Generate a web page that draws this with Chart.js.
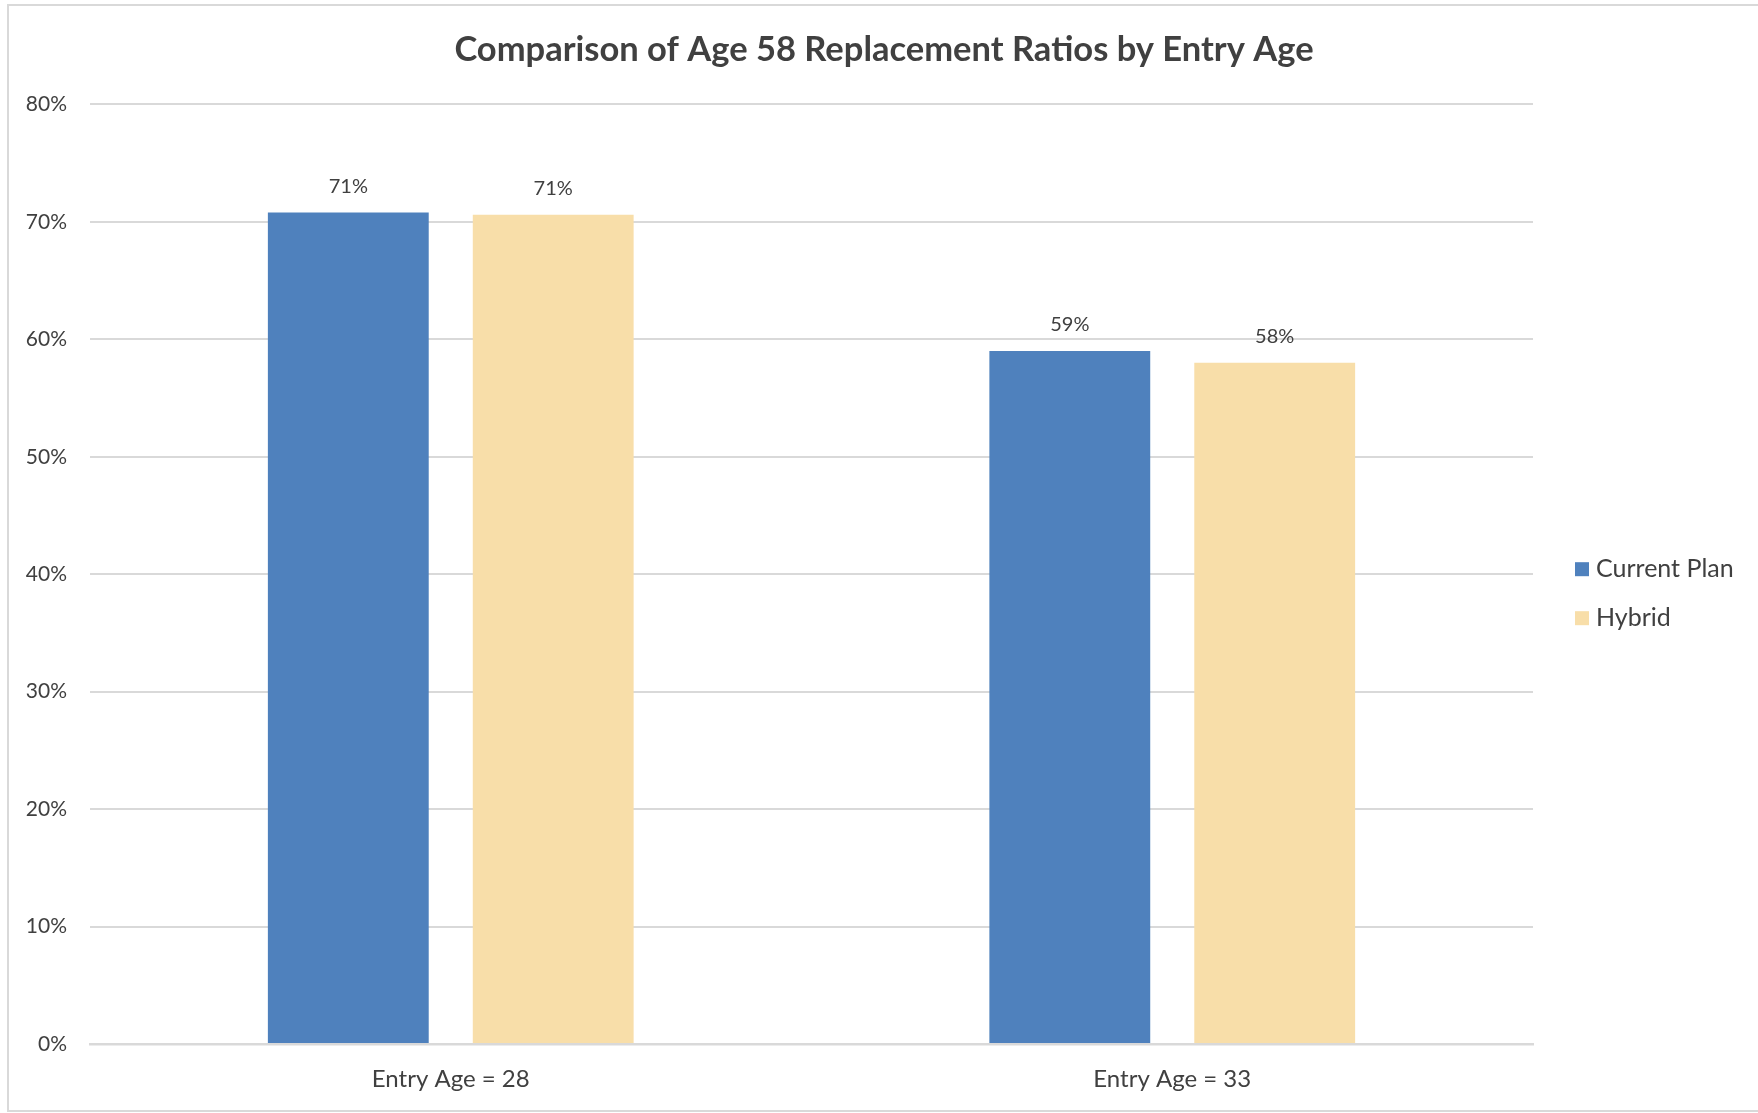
<!DOCTYPE html>
<html>
<head>
<meta charset="utf-8">
<title>Replacement Ratios by Entry Age</title>
<script src="https://cdn.jsdelivr.net/npm/chart.js@4.4.1/dist/chart.umd.min.js"></script>
<style>
  html, body { margin: 0; padding: 0; background: #fff; }
  #wrap { width: 1758px; height: 1113px; position: relative; }
</style>
</head>
<body>
<div id="wrap"><canvas id="ratioChart"></canvas></div>
<script>
// replacement ratios at age 58, per entry age
const entryAges   = ['Entry Age = 28', 'Entry Age = 33'];
const currentPlan = [0.708, 0.59];
const hybrid      = [0.706, 0.58];
const yTicks      = [0, 0.1, 0.2, 0.3, 0.4, 0.5, 0.6, 0.7, 0.8];

const TEXT = '#404040', HAIR = '#d9d9d9', FONT = 'Lato, sans-serif';

// thin frame round the whole chart
const frame = {
  id: 'frame',
  beforeDraw(chart) {
    const c = chart.ctx;
    c.save();
    c.strokeStyle = HAIR; c.lineWidth = 2;
    c.strokeRect(8, 5, chart.width + 10, chart.height - 7);
    c.restore();
  }
};

// percentage above each bar
const barLabels = {
  id: 'barLabels',
  afterDatasetsDraw(chart) {
    const c = chart.ctx;
    c.save();
    c.font = '20px ' + FONT; c.fillStyle = TEXT;
    c.textAlign = 'center'; c.textBaseline = 'middle';
    chart.data.datasets.forEach((ds, i) => {
      chart.getDatasetMeta(i).data.forEach((bar, j) => {
        c.fillText(Math.round(ds.data[j] * 100) + '%', bar.x, bar.y - 26);
      });
    });
    c.restore();
  }
};

// legend in the empty strip right of the plot, a little below its middle
const sideLegend = {
  id: 'sideLegend',
  afterDraw(chart) {
    const c = chart.ctx, a = chart.chartArea;
    const x = a.right + 42, y0 = (a.top + a.bottom) / 2 - 5;
    c.save();
    c.font = '25px ' + FONT; c.textBaseline = 'middle';
    chart.data.datasets.forEach((ds, i) => {
      const y = y0 + i * 49;
      c.fillStyle = ds.backgroundColor;
      c.fillRect(x, y - 7, 14, 14);
      c.fillStyle = TEXT;
      c.fillText(ds.label, x + 21, y);
    });
    c.restore();
  }
};

new Chart(document.getElementById('ratioChart'), {
  type: 'bar',
  data: {
    labels: entryAges,
    datasets: [
      { label: 'Current Plan', data: currentPlan, backgroundColor: '#4f81bd', borderWidth: 0 },
      { label: 'Hybrid', data: hybrid, backgroundColor: '#f8dea9', borderWidth: 0 }
    ]
  },
  options: {
    responsive: true, maintainAspectRatio: false, animation: false, devicePixelRatio: 1,
    categoryPercentage: 0.568, barPercentage: 0.785,
    layout: { padding: { top: 10, left: 10, right: 0, bottom: 0 } },
    plugins: {
      title: { display: true, text: 'Comparison of Age 58 Replacement Ratios by Entry Age',
        color: TEXT, font: { family: FONT, size: 34.5, weight: 'bold' }, padding: { top: 19, bottom: 34 } },
      legend: { display: false },
      tooltip: { enabled: false }
    },
    scales: {
      x: {
        grid: { display: false, drawTicks: false },
        border: { color: HAIR, width: 2.5 },
        ticks: { color: TEXT, font: { family: FONT, size: 24 }, padding: 21 },
        afterFit: s => { s.height = 69; }
      },
      y: {
        min: 0, max: 0.8,
        afterBuildTicks: s => { s.ticks = yTicks.map(v => ({ value: v })); },
        grid: { color: HAIR, lineWidth: 2, drawTicks: false },
        border: { display: false },
        ticks: { color: TEXT, font: { family: FONT, size: 21 }, padding: 23,
          callback: v => Math.round(v * 100) + '%' },
        afterFit: s => { s.width = 80; }
      },
      // blank strip on the right that holds the legend
      side: {
        axis: 'y', position: 'right',
        grid: { display: false, drawTicks: false },
        border: { display: false },
        ticks: { display: false },
        afterFit: s => { s.width = 225; }
      }
    }
  },
  plugins: [frame, barLabels, sideLegend]
});
</script>
</body>
</html>
